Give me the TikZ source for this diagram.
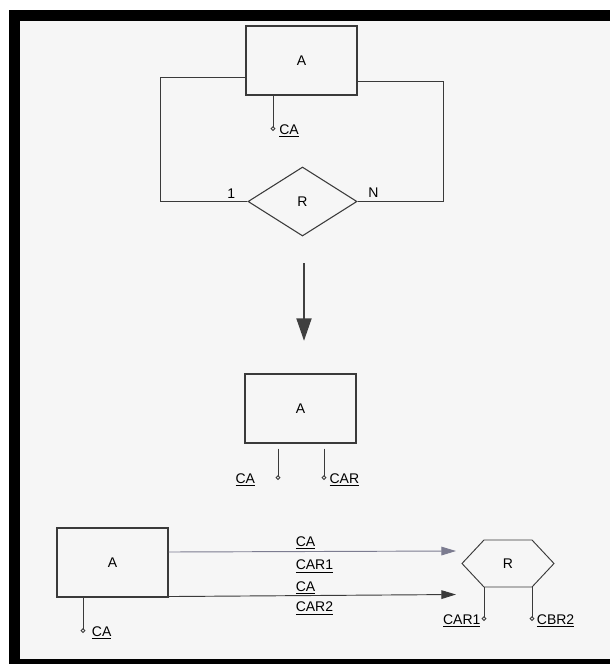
\documentclass[tikz,border=0pt]{standalone}
\usepackage{fontspec}
\setmainfont{Liberation Sans}
\usetikzlibrary{arrows.meta,positioning,calc,shapes.geometric}
\definecolor{InkGray}{HTML}{3A3A3A}
\definecolor{PaperGray}{HTML}{F6F6F6}
\definecolor{LinkGray}{HTML}{7C7C90}

\begin{document}
\begin{tikzpicture}[
    x=0.75pt, y=-0.75pt, % 以扫描图像素为单位，y 轴向下
    font=\fontsize{10.5}{12}\selectfont,
    entity/.style={draw=InkGray, line width=0.8pt, minimum width=83.25pt, minimum height=51.75pt, inner sep=0pt},
    relship/.style={draw=InkGray, line width=0.8pt, shape=diamond, minimum width=81.75pt, minimum height=51.75pt, inner sep=0pt},
    attr/.style={inner sep=0pt},
    stem/.style={draw=InkGray, line width=0.7pt, -{Circle[open, length=3.6pt]}},
    link/.style={draw=InkGray, line width=0.7pt},
    arr/.style={-{Triangle[length=11pt, width=6.5pt]}, line width=0.7pt, draw=InkGray},
    bigarr/.style={-{Triangle[length=17pt, width=11pt]}, line width=2.2pt, draw=black!75}
]
\useasboundingbox (0,0) rectangle (610,664);

% 纸面与黑色边框
\fill[PaperGray] (20,21) rectangle (610,659);
\fill[black] (9,10) rectangle (610,21);
\fill[black] (9,10) rectangle (20,664);
\fill[black] (9,659) rectangle (610,664);

% 上图：一元 1:N 联系
\node[entity] (topA) at (301.5,60.5) {A};
\node[relship] (topR) at (302.5,201.5) {R};
\coordinate (loopL) at (160,201.5);
\coordinate (loopR) at (443,201.5);
\coordinate (topCA) at (273,131);

\draw[link] ($(topA.west)+(0,16.5)$) -| (loopL) -- (topR.west);
\draw[link] ($(topA.east)+(0,20.5)$) -| (loopR) -- (topR.east);
\node[attr, above left=2pt and 9pt of topR.west] (card1) {1};
\node[attr, above right=2.5pt and 8pt of topR.east] (cardN) {N};

\draw[stem] (topCA |- topA.south) -- (topCA);
\node[attr, right=4.5pt of topCA] (topCAlbl) {\underline{CA}};

% 转换箭头
\coordinate (flowS) at (304,263);
\coordinate (flowE) at (304,341);
\draw[bigarr] (flowS) -- (flowE);

% 中图：外键并入实体
\node[entity] (midA) at (300.5,408.5) {A};
\coordinate (midCA) at (278,480);
\coordinate (midCAR) at (324,480);
\draw[stem] ([yshift=-3.75pt]midCA |- midA.south) -- (midCA);
\draw[stem] ([yshift=-3.75pt]midCAR |- midA.south) -- (midCAR);
\node[attr, left=17pt of midCA] (midCAlbl) {\underline{CA}};
\node[attr, right=4pt of midCAR] (midCARlbl) {\underline{CAR}};

% 下图：联系独立成表
\node[entity] (botA) at (112.5,562.5) {A};
\coordinate (botCA) at (83,633);
\draw[stem] (botCA |- botA.south) -- (botCA);
\node[attr, right=6.5pt of botCA] (botCAlbl) {\underline{CA}};

\node[attr] (botR) at (508,563.5) {R};
\draw[link] (botR.center) ++(-46,0) coordinate (hexW) -- ++(22,-23.5) coordinate (hexNW)
    -- ++(48,0) coordinate (hexNE) -- ++(22,23.5) coordinate (hexE)
    -- ++(-22,23.5) coordinate (hexSE) -- ++(-48,0) coordinate (hexSW) -- cycle;
\coordinate (relCAR1) at (484,621);
\coordinate (relCBR2) at (532,621);
\draw[stem] (hexSW) -- (relCAR1);
\draw[stem] (hexSE) -- (relCBR2);
\node[attr, left=2.5pt of relCAR1] (relCAR1lbl) {\underline{CAR1}};
\node[attr, right=3.5pt of relCBR2] (relCBR2lbl) {\underline{CBR2}};

% 两条参照箭头，角色名标在线上下
\coordinate (in1) at (456,551);
\coordinate (in2) at (456,594.5);
\draw[arr, draw=LinkGray] ($(botA.east)+(0,-10.5)$) -- node[attr, pos=0.441, anchor=south west, yshift=1.5pt]{\underline{CA}}
    node[attr, pos=0.441, anchor=north west, yshift=-6pt]{\underline{CAR1}} (in1);
\draw[arr] ($(botA.south east)+(0,-1)$) -- node[attr, pos=0.441, anchor=south west, yshift=1pt]{\underline{CA}}
    node[attr, pos=0.441, anchor=north west, yshift=-4.5pt]{\underline{CAR2}} (in2);

\end{tikzpicture}
\end{document}
